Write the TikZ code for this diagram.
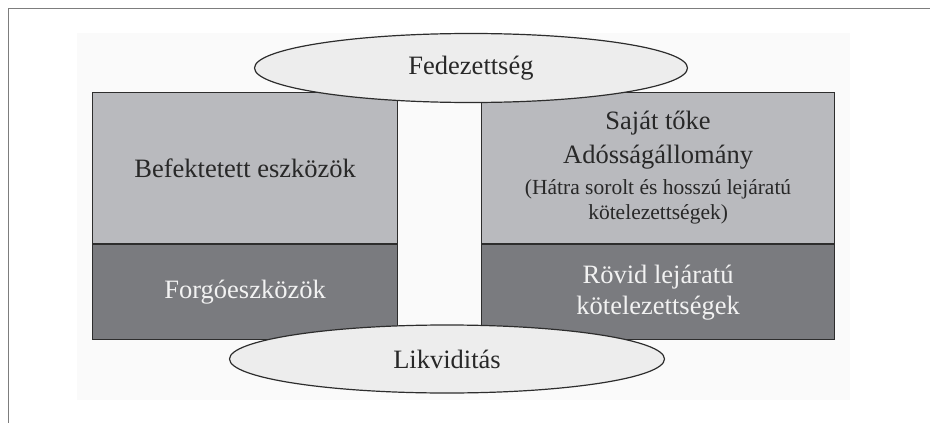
\documentclass[tikz,border=0pt]{standalone}
\usepackage{fontspec}
\setmainfont{Liberation Serif}
\usetikzlibrary{positioning,shapes}

\definecolor{lightbox}{RGB}{185,186,190}
\definecolor{darkbox}{RGB}{122,123,127}
\definecolor{ovalfill}{RGB}{237,237,237}
\definecolor{boxline}{RGB}{45,45,45}
\definecolor{darktext}{RGB}{40,40,40}
\definecolor{lighttext}{RGB}{242,242,242}
\definecolor{framecol}{RGB}{125,125,125}
\definecolor{backfill}{RGB}{250,250,250}

\begin{document}
\begin{tikzpicture}[
  x=1pt, y=-1pt,
  font=\fontsize{26.5pt}{34pt}\selectfont,
  box/.style={draw=boxline, line width=1.2pt, rectangle, inner sep=0pt, align=center},
  upper/.style={box, fill=lightbox, text=darktext, minimum height=151pt},
  lower/.style={box, fill=darkbox, text=lighttext, minimum height=95pt},
  oval/.style={draw=boxline, line width=1.2pt, ellipse, fill=ovalfill, text=darktext, inner sep=0pt},
  note/.style={font=\fontsize{21.5pt}{25pt}\selectfont},
  node distance=0pt,
  ]
  \useasboundingbox (0,0) rectangle (930,423);
  \fill[backfill] (77,33) rectangle (850,400);
  \draw[framecol, line width=1pt] (930,8) -- (8,8) -- (8,423);

  \node[upper, minimum width=305pt, anchor=north west] (fixed) at (92,92) {Befektetett eszközök};
  \node[lower, minimum width=305pt, below=of fixed] (current) {Forgóeszközök};
  \node[upper, minimum width=353pt, anchor=north west] (equity) at (481,92) {Saját tőke\\
    Adósságállomány\\[-3pt]
    {\fontsize{21.5pt}{25pt}\selectfont (Hátra sorolt és hosszú lejáratú}\\[-9pt]
    {\fontsize{21.5pt}{25pt}\selectfont kötelezettségek)}};
  \node[lower, minimum width=353pt, below=of equity] (shortterm) {Rövid lejáratú\\[-3pt] kötelezettségek};

  \draw[boxline, line width=2.4pt] (fixed.south west) -- (fixed.south east);
  \draw[boxline, line width=2.4pt] (equity.south west) -- (equity.south east);

  \node[oval, minimum width=433pt, minimum height=69pt] (cover) at (471,68) {Fedezettség};
  \node[oval, minimum width=435pt, minimum height=68pt] (liquid) at (447,359) {Likviditás};
\end{tikzpicture}
\end{document}
